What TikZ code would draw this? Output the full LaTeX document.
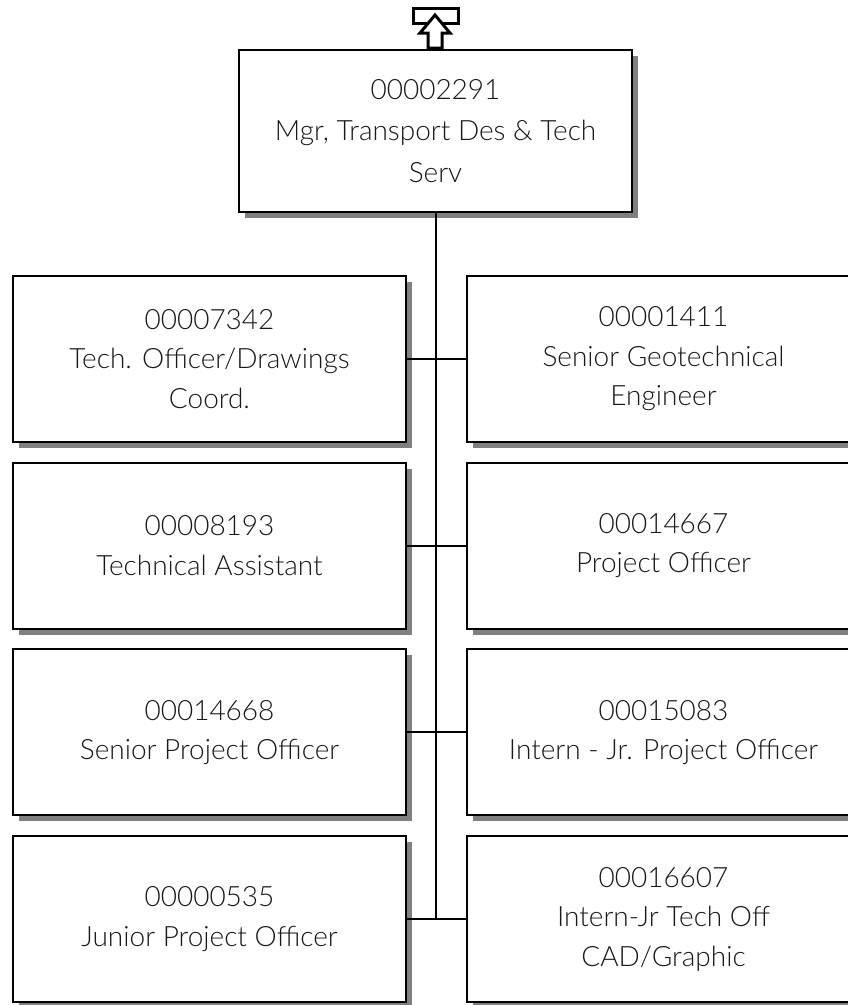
\documentclass[tikz,border=0pt]{standalone}
\usepackage{fontspec}
\setmainfont{Lato Light}
\usetikzlibrary{positioning}
\usetikzlibrary{shadows}

\begin{document}
\begin{tikzpicture}
    [
    x=1pt,y=-1pt,
    post/.style={rectangle,draw,line width=2pt,fill=white,inner sep=0pt,
      minimum width=393pt,minimum height=166pt,align=center,text=black!90,
      font=\fontsize{28}{39.5}\selectfont,
      drop shadow={shadow xshift=6pt,shadow yshift=-6pt,opacity=1,fill=black!50}},
    link/.style={line width=2pt}
    ]
    \useasboundingbox (0,0) rectangle (848,1005);
    \node (top) at (435.5,131) [post, minimum height=162pt, font=\fontsize{28}{41.5}\selectfont] {00002291\\Mgr, Transport Des \& Tech\\Serv};
    \node (l1) at (209.5,359) [post] {00007342\\Tech. Officer/Drawings\\Coord.};
    \node (l2) [post, below=18.7pt of l1] {00008193\\Technical Assistant};
    \node (l3) [post, below=18.7pt of l2] {00014668\\Senior Project Officer};
    \node (l4) [post, below=18.7pt of l3] {00000535\\Junior Project Officer};
    \node (r1) [post, right=59pt of l1] {00001411\\Senior Geotechnical\\Engineer};
    \node (r2) [post, right=59pt of l2] {00014667\\Project Officer};
    \node (r3) [post, right=59pt of l3] {00015083\\Intern - Jr. Project Officer};
    \node (r4) [post, right=59pt of l4] {00016607\\Intern-Jr Tech Off\\CAD/Graphic};
    \draw [link] (top) -- (top |- l4);
    \foreach \i in {1,...,4}
      \draw [link] (l\i) -- (r\i);

    \node (up) at (436,16) [draw, line width=3pt, inner sep=0pt, minimum width=45pt, minimum height=15pt] {};
    \draw [line width=3pt, fill=white] (435,15) -- (450,33) -- (442,33) -- (442,48)
      -- (428,48) -- (428,33) -- (420,33) -- cycle;
\end{tikzpicture}
\end{document}
